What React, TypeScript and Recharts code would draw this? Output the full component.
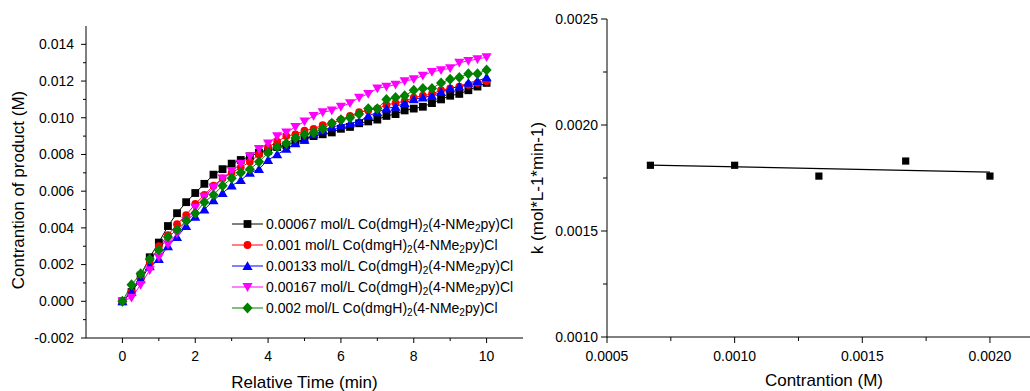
import React from 'react';
import { LineChart, Line, XAxis, YAxis, ScatterChart, Scatter, Legend, Label } from 'recharts';

const FONT = "'Liberation Sans', Arial, Helvetica, sans-serif";

// ---------- Left chart data ----------
const times = [0, 0.25, 0.5, 0.75, 1, 1.25, 1.5, 1.75, 2, 2.25, 2.5, 2.75, 3, 3.25, 3.5, 3.75, 4, 4.25, 4.5, 4.75, 5, 5.25, 5.5, 5.75, 6, 6.25, 6.5, 6.75, 7, 7.25, 7.5, 7.75, 8, 8.25, 8.5, 8.75, 9, 9.25, 9.5, 9.75, 10];

const c00067 = [0, 0.0005, 0.0014, 0.0024, 0.0032, 0.0041, 0.0048, 0.0054, 0.0059, 0.0064, 0.0069, 0.0072, 0.0075, 0.0077, 0.0079, 0.0081, 0.0082, 0.0084, 0.0085, 0.0087, 0.0088, 0.0090, 0.0091, 0.0092, 0.0094, 0.0095, 0.0097, 0.0098, 0.0099, 0.0101, 0.0102, 0.0104, 0.0105, 0.0106, 0.0108, 0.0110, 0.0112, 0.0113, 0.0115, 0.0117, 0.0119];
const c001 = [0, 0.0005, 0.0012, 0.0021, 0.0030, 0.0036, 0.0042, 0.0047, 0.0053, 0.0058, 0.0063, 0.0067, 0.0070, 0.0073, 0.0076, 0.0080, 0.0084, 0.0087, 0.0090, 0.0091, 0.0093, 0.0094, 0.0096, 0.0097, 0.0099, 0.0101, 0.0103, 0.0104, 0.0105, 0.0107, 0.0108, 0.0109, 0.0111, 0.0112, 0.0113, 0.0115, 0.0116, 0.0117, 0.0118, 0.0119, 0.0120];
const c00133 = [0, 0.0005, 0.0012, 0.0019, 0.0023, 0.0030, 0.0035, 0.0041, 0.0046, 0.0050, 0.0055, 0.0059, 0.0063, 0.0066, 0.0070, 0.0072, 0.0077, 0.0080, 0.0083, 0.0086, 0.0088, 0.0091, 0.0093, 0.0095, 0.0096, 0.0097, 0.0098, 0.0101, 0.0103, 0.0105, 0.0106, 0.0108, 0.0110, 0.0111, 0.0112, 0.0114, 0.0116, 0.0117, 0.0119, 0.0120, 0.0122];
const c00167 = [0, 0.0002, 0.0009, 0.0017, 0.0024, 0.0031, 0.0037, 0.0044, 0.0051, 0.0057, 0.0062, 0.0067, 0.0071, 0.0075, 0.0079, 0.0083, 0.0086, 0.0090, 0.0092, 0.0095, 0.0098, 0.0101, 0.0103, 0.0104, 0.0106, 0.0108, 0.0111, 0.0113, 0.0116, 0.0117, 0.0118, 0.0120, 0.0121, 0.0123, 0.0125, 0.0126, 0.0127, 0.0130, 0.0131, 0.0132, 0.0133];
const c0002 = [0, 0.0009, 0.0015, 0.0023, 0.0028, 0.0035, 0.0039, 0.0044, 0.0048, 0.0054, 0.0058, 0.0063, 0.0067, 0.0070, 0.0072, 0.0076, 0.0081, 0.0084, 0.0086, 0.0089, 0.0091, 0.0092, 0.0094, 0.0097, 0.0099, 0.0100, 0.0102, 0.0105, 0.0105, 0.0110, 0.0111, 0.0112, 0.0115, 0.0116, 0.0116, 0.0119, 0.0121, 0.0122, 0.0124, 0.0124, 0.0126];

const seriesKeys = ['s1', 's2', 's3', 's4', 's5'];
const seriesConc = ['0.00067', '0.001', '0.00133', '0.00167', '0.002'];
const seriesColors = ['#000000', '#ff0000', '#0000ff', '#ff00ff', '#008000'];
const seriesShapes = ['square', 'circle', 'triangleUp', 'triangleDown', 'diamond'];
const seriesValues = [c00067, c001, c00133, c00167, c0002];

const leftXTicks = [0, 1, 2, 3, 4, 5, 6, 7, 8, 9, 10];
const leftXTopTicks = [0, 1, 2, 3, 4, 5, 6, 7, 8, 9, 10];
const leftYTicks = [-0.002, -0.001, 0, 0.001, 0.002, 0.003, 0.004, 0.005, 0.006, 0.007, 0.008, 0.009, 0.01, 0.011, 0.012, 0.013, 0.014];

// ---------- Right chart data ----------
const kConc = [0.00067, 0.001, 0.00133, 0.00167, 0.002];
const kValues = [0.00181, 0.00181, 0.001759, 0.00183, 0.001759];
const fitConc = [0.00067, 0.002];
const fitValues = [0.001811, 0.001778];

const rightXTicks = [0.0005, 0.00075, 0.001, 0.00125, 0.0015, 0.00175, 0.002];
const rightYTicks = [0.001, 0.00125, 0.0015, 0.00175, 0.002, 0.00225, 0.0025];

const leftData = times.map((t, i) => {
  const row: any = { t };
  seriesKeys.forEach((k, j) => { row[k] = seriesValues[j][i]; });
  return row;
});
const kData = kConc.map((x, i) => ({ x, y: kValues[i] }));
const fitData = fitConc.map((x, i) => ({ x, y: fitValues[i] }));

// ---------- helpers ----------
function markerPath(shape: string, cx: number, cy: number, s: number): string {
  switch (shape) {
    case 'square':
      return `M${cx - s} ${cy - s}H${cx + s}V${cy + s}H${cx - s}Z`;
    case 'circle':
      return `M${cx - s} ${cy}A${s} ${s} 0 1 0 ${cx + s} ${cy}A${s} ${s} 0 1 0 ${cx - s} ${cy}Z`;
    case 'triangleUp':
      return `M${cx} ${cy - s * 1.25}L${cx + s * 1.3} ${cy + s}L${cx - s * 1.3} ${cy + s}Z`;
    case 'triangleDown':
      return `M${cx} ${cy + s * 1.25}L${cx + s * 1.3} ${cy - s}L${cx - s * 1.3} ${cy - s}Z`;
    case 'diamond':
      return `M${cx} ${cy - s * 1.4}L${cx + s * 1.3} ${cy}L${cx} ${cy + s * 1.4}L${cx - s * 1.3} ${cy}Z`;
    default:
      return '';
  }
}

const makeDot = (shape: string, color: string) => (props: any) => {
  const { cx, cy, index } = props;
  if (cx == null || cy == null) return <g key={`e${index}`} />;
  return <path key={`d${index}`} d={markerPath(shape, cx, cy, 3.9)} fill={color} stroke="none" />;
};

const makeTick = (
  orient: 'bottom' | 'left',
  isMajor: (v: number) => boolean,
  fmt: (v: number) => string,
  majorLen: number,
  minorLen: number,
  gap: number
) => (props: any) => {
  const { x, y, payload } = props;
  const v = payload.value;
  const major = isMajor(v);
  const len = major ? majorLen : minorLen;
  if (orient === 'bottom') {
    return (
      <g>
        <line x1={x} x2={x} y1={y} y2={y + len} stroke="#000" strokeWidth={1} />
        {major && (
          <text x={x} y={y + majorLen + gap} dy="0.71em" textAnchor="middle" fontSize={14} fill="#000" fontFamily={FONT}>
            {fmt(v)}
          </text>
        )}
      </g>
    );
  }
  return (
    <g>
      <line x1={x} x2={x - len} y1={y} y2={y} stroke="#000" strokeWidth={1} />
      {major && (
        <text x={x - majorLen - gap} y={y} dy="0.35em" textAnchor="end" fontSize={14} fill="#000" fontFamily={FONT}>
          {fmt(v)}
        </text>
      )}
    </g>
  );
};

const vTitle = (text: string, dx: number, dy: number) => (props: any) => {
  const vb = props.viewBox || {};
  const cx = vb.x + dx;
  const cy = vb.y + vb.height / 2 + dy;
  return (
    <text
      x={cx}
      y={cy}
      transform={`rotate(-90 ${cx} ${cy})`}
      textAnchor="middle"
      dominantBaseline="central"
      fontSize={17}
      fill="#000"
      fontFamily={FONT}
    >
      {text}
    </text>
  );
};

const hTitle = (text: string, dy: number) => (props: any) => {
  const vb = props.viewBox || {};
  const cx = vb.x + vb.width / 2;
  const cy = vb.y + dy;
  return (
    <text x={cx} y={cy} textAnchor="middle" dominantBaseline="central" fontSize={17} fill="#000" fontFamily={FONT}>
      {text}
    </text>
  );
};

const LegendContent = () => (
  <div style={{ fontFamily: FONT, fontSize: 14, color: '#000' }}>
    {seriesKeys.map((k, i) => (
      <div key={k} style={{ height: 21, lineHeight: '21px', display: 'flex', alignItems: 'center', whiteSpace: 'nowrap' }}>
        <svg width={36} height={14} style={{ flex: 'none' }}>
          <line x1={2} x2={33} y1={7} y2={7} stroke={seriesColors[i]} strokeWidth={1} />
          <path d={markerPath(seriesShapes[i], 17.5, 7, 3.9)} fill={seriesColors[i]} />
        </svg>
        <span style={{ marginLeft: 0 }}>
          {seriesConc[i]} mol/L Co(dmgH)
          <sub style={{ fontSize: 10, lineHeight: 0, verticalAlign: '-3px' }}>2</sub>
          (4-NMe
          <sub style={{ fontSize: 10, lineHeight: 0, verticalAlign: '-3px' }}>2</sub>
          py)Cl
        </span>
      </div>
    ))}
  </div>
);

const leftXMajor = (v: number) => Math.round(v) % 2 === 0;
const leftYMajor = (v: number) => Math.round(v * 1000) % 2 === 0;
const quarterMajor = (v: number) => Math.round(v * 4000) % 2 === 0;

export default function App() {
  return (
    <div style={{ position: 'absolute', left: 0, top: 0, width: 1030, height: 391, overflow: 'hidden', background: '#fff' }}>
      <div style={{ position: 'absolute', left: 0, top: 0 }}>
        <LineChart width={530} height={391} data={leftData} margin={{ top: 26, right: 7, bottom: 0, left: 0 }}>
          <XAxis
            xAxisId="x"
            dataKey="t"
            type="number"
            domain={[-1, 11]}
            ticks={leftXTicks}
            interval={0}
            height={53}
            tickSize={0}
            tickMargin={0}
            tickLine={false}
            axisLine={{ stroke: '#000', strokeWidth: 1 }}
            tick={makeTick('bottom', leftXMajor, (v) => String(v), 5, 3, 8)}
          >
            <Label content={hTitle('Relative Time (min)', 44)} />
          </XAxis>
          <XAxis
            xAxisId="top"
            orientation="top"
            type="number"
            domain={[-1, 11]}
            ticks={leftXTopTicks}
            interval={0}
            height={0}
            mirror
            tick={false}
            tickSize={3}
            tickLine={{ stroke: '#000' }}
            axisLine={{ stroke: '#000', strokeWidth: 1 }}
          />
          <YAxis
            yAxisId="y"
            type="number"
            domain={[-0.002, 0.015]}
            ticks={leftYTicks}
            interval={0}
            width={86}
            tickSize={0}
            tickMargin={0}
            tickLine={false}
            axisLine={{ stroke: '#000', strokeWidth: 1 }}
            tick={makeTick('left', leftYMajor, (v) => v.toFixed(3), 5, 3, 7)}
          >
            <Label content={vTitle('Contrantion of product (M)', 18, 8)} />
          </YAxis>
          <YAxis
            yAxisId="r"
            orientation="right"
            type="number"
            domain={[-0.002, 0.015]}
            ticks={leftYTicks}
            interval={0}
            width={0}
            mirror
            tick={false}
            tickSize={3}
            tickLine={{ stroke: '#000' }}
            axisLine={{ stroke: '#000', strokeWidth: 1 }}
          />
          {seriesKeys.map((k, i) => (
            <Line
              key={k}
              xAxisId="x"
              yAxisId="y"
              type="linear"
              dataKey={k}
              stroke={seriesColors[i]}
              strokeWidth={1}
              dot={makeDot(seriesShapes[i], seriesColors[i])}
              activeDot={false}
              isAnimationActive={false}
            />
          ))}
          <Legend
            layout="vertical"
            align="center"
            verticalAlign="middle"
            content={LegendContent}
            wrapperStyle={{ left: 230, top: 213.5, width: 300, height: 110 }}
          />
        </LineChart>
      </div>
      <div style={{ position: 'absolute', left: 520, top: 0 }}>
        <ScatterChart width={530} height={391} margin={{ top: 19, right: 9, bottom: 0, left: 0 }}>
          <XAxis
            xAxisId="x"
            dataKey="x"
            type="number"
            domain={[0.0005, 0.0022]}
            ticks={rightXTicks}
            interval={0}
            height={54}
            allowDataOverflow
            tickSize={0}
            tickMargin={0}
            tickLine={false}
            axisLine={{ stroke: '#000', strokeWidth: 1 }}
            tick={makeTick('bottom', quarterMajor, (v) => v.toFixed(4), 6, 4, 8)}
          >
            <Label content={hTitle('Contrantion (M)', 43)} />
          </XAxis>
          <XAxis
            xAxisId="top"
            orientation="top"
            type="number"
            domain={[0.0005, 0.0022]}
            ticks={rightXTicks}
            interval={0}
            height={0}
            mirror
            tick={false}
            tickSize={3}
            tickLine={{ stroke: '#000' }}
            axisLine={{ stroke: '#000', strokeWidth: 1 }}
          />
          <YAxis
            yAxisId="y"
            dataKey="y"
            type="number"
            domain={[0.001, 0.0025]}
            ticks={rightYTicks}
            interval={0}
            width={87}
            allowDataOverflow
            tickSize={0}
            tickMargin={0}
            tickLine={false}
            axisLine={{ stroke: '#000', strokeWidth: 1 }}
            tick={makeTick('left', quarterMajor, (v) => v.toFixed(4), 6, 4, 3)}
          >
            <Label content={vTitle('k (mol*L-1*min-1)', 17, 10)} />
          </YAxis>
          <Scatter
            xAxisId="x"
            yAxisId="y"
            data={fitData}
            line={{ stroke: '#000', strokeWidth: 1.3 }}
            shape={() => <g />}
            isAnimationActive={false}
          />
          <Scatter
            xAxisId="x"
            yAxisId="y"
            data={kData}
            shape={(p: any) => <path d={markerPath('square', p.cx, p.cy, 3.6)} fill="#000" />}
            isAnimationActive={false}
          />
        </ScatterChart>
      </div>
    </div>
  );
}
